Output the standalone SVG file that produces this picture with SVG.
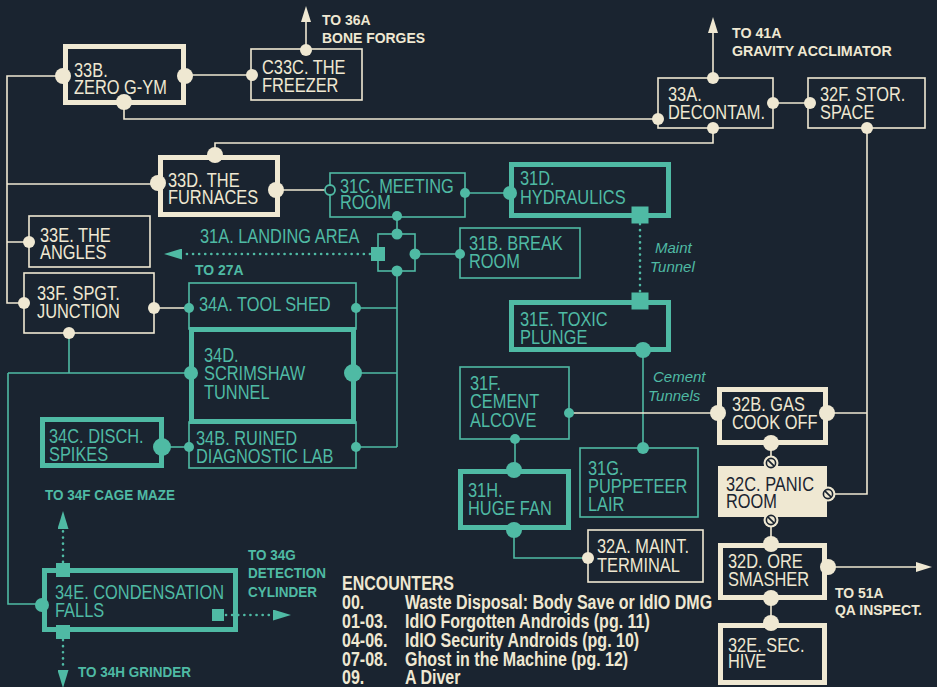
<svg xmlns="http://www.w3.org/2000/svg" width="937" height="687" viewBox="0 0 937 687">
<defs>
<style>
.n{font-family:"Liberation Sans",Arial,sans-serif;font-size:20px}
.b{font-family:"Liberation Sans",Arial,sans-serif;font-size:15px;font-weight:bold}
.i{font-family:"Liberation Sans",Arial,sans-serif;font-size:15px;font-style:italic}
.e{font-family:"Liberation Sans",Arial,sans-serif;font-size:21px;font-weight:bold}
.cw{fill:#efe8d2}.ct{fill:#4fbaa4}.cd{fill:#1a2430}
.bw1{fill:none;stroke:#efe8d2;stroke-width:1.6}
.bw5{fill:none;stroke:#efe8d2;stroke-width:5}
.bt1{fill:none;stroke:#4fbaa4;stroke-width:1.6}
.bt5{fill:none;stroke:#4fbaa4;stroke-width:5}
.lw{fill:none;stroke:#efe8d2;stroke-width:1.6}
.lt{fill:none;stroke:#4fbaa4;stroke-width:1.6}
.dt{fill:none;stroke:#4fbaa4;stroke-width:2.6;stroke-dasharray:0.1 6;stroke-linecap:round}
</style>
<marker id="aw" viewBox="0 0 16 10" refX="0" refY="5" markerWidth="16" markerHeight="10" markerUnits="userSpaceOnUse" orient="auto"><path d="M0,0L16,5L0,10z" fill="#efe8d2"/></marker>
<marker id="at" viewBox="0 0 18 11" refX="0" refY="5.5" markerWidth="18" markerHeight="11" markerUnits="userSpaceOnUse" orient="auto"><path d="M0,0L18,5.5L0,11z" fill="#4fbaa4"/></marker>
<g id="nosym"><circle r="7.5" fill="#efe8d2"/><circle r="4.6" fill="none" stroke="#1a2430" stroke-width="1.6"/><line x1="-3.2" y1="-3.2" x2="3.2" y2="3.2" stroke="#1a2430" stroke-width="1.7"/></g>
</defs>
<rect width="937" height="687" fill="#1a2430"/>

<g id="connectors">
<path class="lw" d="M63,76H7V303H24M7,242H29M7,184H158"/>
<path class="lw" d="M185,75H252"/>
<path class="lw" d="M124,102V119H658"/>
<path class="lw" d="M215,155V143H713V128"/>
<path class="lw" d="M773,103H810"/>
<path class="lw" d="M276,190H325"/>
<path class="lw" d="M306,50V22" marker-end="url(#aw)"/>
<path class="lw" d="M713,78V33" marker-end="url(#aw)"/>
<path class="lt" d="M465,193H510"/>
<path class="lt" d="M397,216V234"/>
<path class="lt" d="M415,254H460"/>
<path class="dt" d="M370,254H182" marker-end="url(#at)"/>
<path class="lt" d="M397,271V447M356,308H397M353,373H397M356,447H397"/>
<path class="lw" d="M154,308H189"/>
<path class="lt" d="M69,333V373M8,373H191M8,373V604H42"/>
<path class="lt" d="M162,447H189"/>
<path class="dt" d="M640,224V293"/>
<path class="lt" d="M643,350V448"/>
<path class="lw" d="M569,413H718"/>
<path class="lt" d="M515,439V470"/>
<path class="lt" d="M514,530V558H588"/>
<path class="lw" d="M867,128V494H828M827,413H867"/>
<path class="lw" d="M771,443V463M771,520V544M771,598V623"/>
<path class="lw" d="M828,567H916" marker-end="url(#aw)"/>
<path class="dt" d="M63,562V529" marker-end="url(#at)"/>
<path class="dt" d="M63,640V670" marker-end="url(#at)"/>
<path class="dt" d="M226,615H273" marker-end="url(#at)"/>
</g>

<g id="n33B">
<rect class="bw5" x="65.5" y="46.5" width="118" height="56"/>
<circle class="cw" cx="63" cy="76" r="8"/><circle class="cw" cx="185" cy="76" r="8"/><circle class="cw" cx="124" cy="102" r="8"/>
<text class="n cw" transform="matrix(.82 0 0 1 74 77)">33B.</text>
<text class="n cw" transform="matrix(.82 0 0 1 74 94)">ZERO G-YM</text>
</g>
<g id="nC33C">
<rect class="bw1" x="251" y="49" width="111" height="51"/>
<circle class="cw" cx="252" cy="75" r="6"/><circle class="cw" cx="306" cy="50" r="6"/>
<text class="n cw" transform="matrix(.82 0 0 1 262 74)">C33C. THE</text>
<text class="n cw" transform="matrix(.82 0 0 1 262 92)">FREEZER</text>
</g>
<g id="l36A">
<text class="b cw" transform="matrix(.93 0 0 1 322 25)">TO 36A</text>
<text class="b cw" transform="matrix(.93 0 0 1 322 43)">BONE FORGES</text>
</g>
<g id="n33A">
<rect class="bw1" x="658" y="78" width="115" height="50"/>
<circle class="cw" cx="713" cy="78" r="6"/><circle class="cw" cx="658" cy="119" r="6"/><circle class="cw" cx="713" cy="128" r="6"/><circle class="cw" cx="773" cy="103" r="6"/>
<text class="n cw" transform="matrix(.82 0 0 1 668 101)">33A.</text>
<text class="n cw" transform="matrix(.82 0 0 1 668 119)">DECONTAM.</text>
</g>
<g id="l41A">
<text class="b cw" transform="matrix(.95 0 0 1 732 38)">TO 41A</text>
<text class="b cw" transform="matrix(.95 0 0 1 732 56)">GRAVITY ACCLIMATOR</text>
</g>
<g id="n32F">
<rect class="bw1" x="808" y="78" width="117" height="50"/>
<circle class="cw" cx="810" cy="103" r="6"/><circle class="cw" cx="867" cy="128" r="6"/>
<text class="n cw" transform="matrix(.82 0 0 1 820 101)">32F. STOR.</text>
<text class="n cw" transform="matrix(.82 0 0 1 820 119)">SPACE</text>
</g>
<g id="n33D">
<rect class="bw5" x="160.5" y="157.5" width="117" height="57"/>
<circle class="cw" cx="158" cy="183" r="8"/><circle class="cw" cx="276" cy="190" r="8"/><circle class="cw" cx="215" cy="155" r="8"/>
<text class="n cw" transform="matrix(.82 0 0 1 168 187)">33D. THE</text>
<text class="n cw" transform="matrix(.82 0 0 1 168 204)">FURNACES</text>
</g>
<g id="n31C">
<rect class="bt1" x="330" y="173" width="135" height="44"/>
<circle cx="330" cy="190" r="5" fill="#1a2430" stroke="#4fbaa4" stroke-width="1.8"/>
<circle class="ct" cx="465" cy="193" r="5"/><circle class="ct" cx="397" cy="216" r="5"/>
<text class="n ct" transform="matrix(.82 0 0 1 340 193)">31C. MEETING</text>
<text class="n ct" transform="matrix(.82 0 0 1 340 209)">ROOM</text>
</g>
<g id="n31D">
<rect class="bt5" x="511.5" y="164.5" width="157" height="51"/>
<circle class="ct" cx="510" cy="193" r="7"/>
<rect class="ct" x="631.5" y="206.5" width="17" height="17"/>
<text class="n ct" transform="matrix(.82 0 0 1 520 185)">31D.</text>
<text class="n ct" transform="matrix(.82 0 0 1 520 204)">HYDRAULICS</text>
</g>
<g id="junction31">
<rect class="bt1" x="378" y="234" width="37" height="37"/>
<rect class="ct" x="371" y="247" width="14" height="14"/>
<circle class="ct" cx="397" cy="234" r="5.5"/><circle class="ct" cx="415" cy="254" r="5.5"/><circle class="ct" cx="397" cy="271" r="5.5"/>
</g>
<g id="n31A">
<text class="n ct" transform="matrix(.82 0 0 1 200 243)">31A. LANDING AREA</text>
<text class="b ct" transform="matrix(.93 0 0 1 195 275)">TO 27A</text>
</g>
<g id="n31B">
<rect class="bt1" x="460" y="228" width="120" height="50"/>
<circle class="ct" cx="460" cy="254" r="5"/>
<text class="n ct" transform="matrix(.82 0 0 1 469 250)">31B. BREAK</text>
<text class="n ct" transform="matrix(.82 0 0 1 469 268)">ROOM</text>
</g>
<g id="n33E">
<rect class="bw1" x="29" y="216" width="121" height="51"/>
<circle class="cw" cx="29" cy="242" r="6"/>
<text class="n cw" transform="matrix(.82 0 0 1 40 242)">33E. THE</text>
<text class="n cw" transform="matrix(.82 0 0 1 40 259)">ANGLES</text>
</g>
<g id="n33F">
<rect class="bw1" x="24" y="273" width="130" height="60"/>
<circle class="cw" cx="24" cy="303" r="6"/><circle class="cw" cx="154" cy="308" r="6"/><circle class="cw" cx="69" cy="333" r="6"/>
<text class="n cw" transform="matrix(.82 0 0 1 37 300)">33F. SPGT.</text>
<text class="n cw" transform="matrix(.82 0 0 1 37 318)">JUNCTION</text>
</g>
<g id="n34A">
<rect class="bt1" x="189" y="283" width="167" height="46"/>
<circle class="ct" cx="189" cy="308" r="5"/><circle class="ct" cx="356" cy="308" r="5"/>
<text class="n ct" transform="matrix(.82 0 0 1 199 311)">34A. TOOL SHED</text>
</g>
<g id="n34B">
<rect class="bt1" x="189" y="422" width="167" height="46"/>
<circle class="ct" cx="189" cy="447" r="5"/><circle class="ct" cx="356" cy="447" r="5"/>
<text class="n ct" transform="matrix(.82 0 0 1 196 445)">34B. RUINED</text>
<text class="n ct" transform="matrix(.82 0 0 1 196 463)">DIAGNOSTIC LAB</text>
</g>
<g id="n34D">
<rect class="bt5" x="191.5" y="329.5" width="162" height="92"/>
<circle class="ct" cx="191" cy="373" r="7"/><circle class="ct" cx="353" cy="373" r="9"/>
<text class="n ct" transform="matrix(.82 0 0 1 204 362)">34D.</text>
<text class="n ct" transform="matrix(.82 0 0 1 204 380)">SCRIMSHAW</text>
<text class="n ct" transform="matrix(.82 0 0 1 204 399)">TUNNEL</text>
</g>
<g id="n34C">
<rect class="bt5" x="42.5" y="419.5" width="119" height="46"/>
<circle class="ct" cx="162" cy="447" r="9"/>
<text class="n ct" transform="matrix(.82 0 0 1 49 443)">34C. DISCH.</text>
<text class="n ct" transform="matrix(.82 0 0 1 49 461)">SPIKES</text>
</g>
<g id="n34E">
<rect class="bt5" x="44.5" y="570.5" width="191" height="59"/>
<circle class="ct" cx="42" cy="605" r="7"/>
<rect class="ct" x="56" y="563" width="14" height="14"/>
<rect class="ct" x="56" y="625" width="14" height="14"/>
<rect class="ct" x="212" y="609" width="12" height="12"/>
<text class="n ct" transform="matrix(.82 0 0 1 55 599)">34E. CONDENSATION</text>
<text class="n ct" transform="matrix(.82 0 0 1 55 617)">FALLS</text>
</g>
<g id="l34F"><text class="b ct" transform="matrix(.9 0 0 1 45 500)">TO 34F CAGE MAZE</text></g>
<g id="l34H"><text class="b ct" transform="matrix(.9 0 0 1 78 677)">TO 34H GRINDER</text></g>
<g id="l34G">
<text class="b ct" transform="matrix(.9 0 0 1 248 560)">TO 34G</text>
<text class="b ct" transform="matrix(.9 0 0 1 248 578)">DETECTION</text>
<text class="b ct" transform="matrix(.9 0 0 1 248 597)">CYLINDER</text>
</g>
<g id="n31E">
<rect class="bt5" x="511.5" y="302.5" width="157" height="47"/>
<rect class="ct" x="631.5" y="292.5" width="17" height="17"/>
<circle class="ct" cx="643" cy="350" r="8"/>
<text class="n ct" transform="matrix(.82 0 0 1 520 326)">31E. TOXIC</text>
<text class="n ct" transform="matrix(.82 0 0 1 520 344)">PLUNGE</text>
</g>
<g id="lMaint">
<text class="i ct" x="655" y="253">Maint</text>
<text class="i ct" x="650" y="272">Tunnel</text>
</g>
<g id="lCement">
<text class="i ct" x="653" y="382">Cement</text>
<text class="i ct" x="648" y="401">Tunnels</text>
</g>
<g id="n31F">
<rect class="bt1" x="460" y="367" width="109" height="72"/>
<circle class="ct" cx="569" cy="413" r="5"/><circle class="ct" cx="515" cy="439" r="5"/>
<text class="n ct" transform="matrix(.82 0 0 1 470 390)">31F.</text>
<text class="n ct" transform="matrix(.82 0 0 1 470 408)">CEMENT</text>
<text class="n ct" transform="matrix(.82 0 0 1 470 427)">ALCOVE</text>
</g>
<g id="n31G">
<rect class="bt1" x="580" y="448" width="118" height="69"/>
<circle class="ct" cx="643" cy="448" r="6"/>
<text class="n ct" transform="matrix(.82 0 0 1 588 475)">31G.</text>
<text class="n ct" transform="matrix(.82 0 0 1 588 493)">PUPPETEER</text>
<text class="n ct" transform="matrix(.82 0 0 1 588 511)">LAIR</text>
</g>
<g id="n31H">
<rect class="bt5" x="460.5" y="471.5" width="108" height="56"/>
<circle class="ct" cx="514" cy="470" r="8"/><circle class="ct" cx="514" cy="530" r="8"/>
<text class="n ct" transform="matrix(.82 0 0 1 468 497)">31H.</text>
<text class="n ct" transform="matrix(.82 0 0 1 468 515)">HUGE FAN</text>
</g>
<g id="n32A">
<rect class="bw1" x="588" y="530" width="115" height="52"/>
<circle class="cw" cx="588" cy="558" r="6"/>
<text class="n cw" transform="matrix(.82 0 0 1 597 553)">32A. MAINT.</text>
<text class="n cw" transform="matrix(.82 0 0 1 597 572)">TERMINAL</text>
</g>
<g id="n32B">
<rect class="bw5" x="719.5" y="389.5" width="106" height="53"/>
<circle class="cw" cx="718" cy="413" r="8"/><circle class="cw" cx="827" cy="413" r="8"/><circle class="cw" cx="771" cy="443" r="8"/>
<text class="n cw" transform="matrix(.82 0 0 1 732 411)">32B. GAS</text>
<text class="n cw" transform="matrix(.82 0 0 1 732 429)">COOK OFF</text>
</g>
<g id="n32C">
<rect class="cw" x="718" y="466" width="109" height="51"/>
<use href="#nosym" x="771" y="463"/><use href="#nosym" x="828" y="494"/><use href="#nosym" x="771" y="520"/>
<text class="n cd" transform="matrix(.82 0 0 1 726 491)">32C. PANIC</text>
<text class="n cd" transform="matrix(.82 0 0 1 726 508)">ROOM</text>
</g>
<g id="n32D">
<rect class="bw5" x="720.5" y="545.5" width="104" height="52"/>
<circle class="cw" cx="771" cy="544" r="8"/><circle class="cw" cx="828" cy="567" r="8"/><circle class="cw" cx="771" cy="598" r="8"/>
<text class="n cw" transform="matrix(.82 0 0 1 728 568)">32D. ORE</text>
<text class="n cw" transform="matrix(.82 0 0 1 728 586)">SMASHER</text>
</g>
<g id="l51A">
<text class="b cw" transform="matrix(.93 0 0 1 835 598)">TO 51A</text>
<text class="b cw" transform="matrix(.93 0 0 1 835 615)">QA INSPECT.</text>
</g>
<g id="n32E">
<rect class="bw5" x="720.5" y="625.5" width="104" height="57"/>
<circle class="cw" cx="771" cy="623" r="8"/>
<text class="n cw" transform="matrix(.82 0 0 1 728 652)">32E. SEC.</text>
<text class="n cw" transform="matrix(.82 0 0 1 728 668)">HIVE</text>
</g>
<g id="encounters">
<text class="e cw" transform="matrix(.763 0 0 1 342 590)">ENCOUNTERS</text>
<text class="e cw" transform="matrix(.763 0 0 1 342 609)">00.</text>
<text class="e cw" transform="matrix(.763 0 0 1 405 609)">Waste Disposal: Body Save or IdIO DMG</text>
<text class="e cw" transform="matrix(.763 0 0 1 342 628)">01-03.</text>
<text class="e cw" transform="matrix(.763 0 0 1 405 628)">IdIO Forgotten Androids (pg. 11)</text>
<text class="e cw" transform="matrix(.763 0 0 1 342 647)">04-06.</text>
<text class="e cw" transform="matrix(.763 0 0 1 405 647)">IdIO Security Androids (pg. 10)</text>
<text class="e cw" transform="matrix(.763 0 0 1 342 666)">07-08.</text>
<text class="e cw" transform="matrix(.763 0 0 1 405 666)">Ghost in the Machine (pg. 12)</text>
<text class="e cw" transform="matrix(.763 0 0 1 342 684)">09.</text>
<text class="e cw" transform="matrix(.763 0 0 1 405 684)">A Diver</text>
</g>
</svg>
